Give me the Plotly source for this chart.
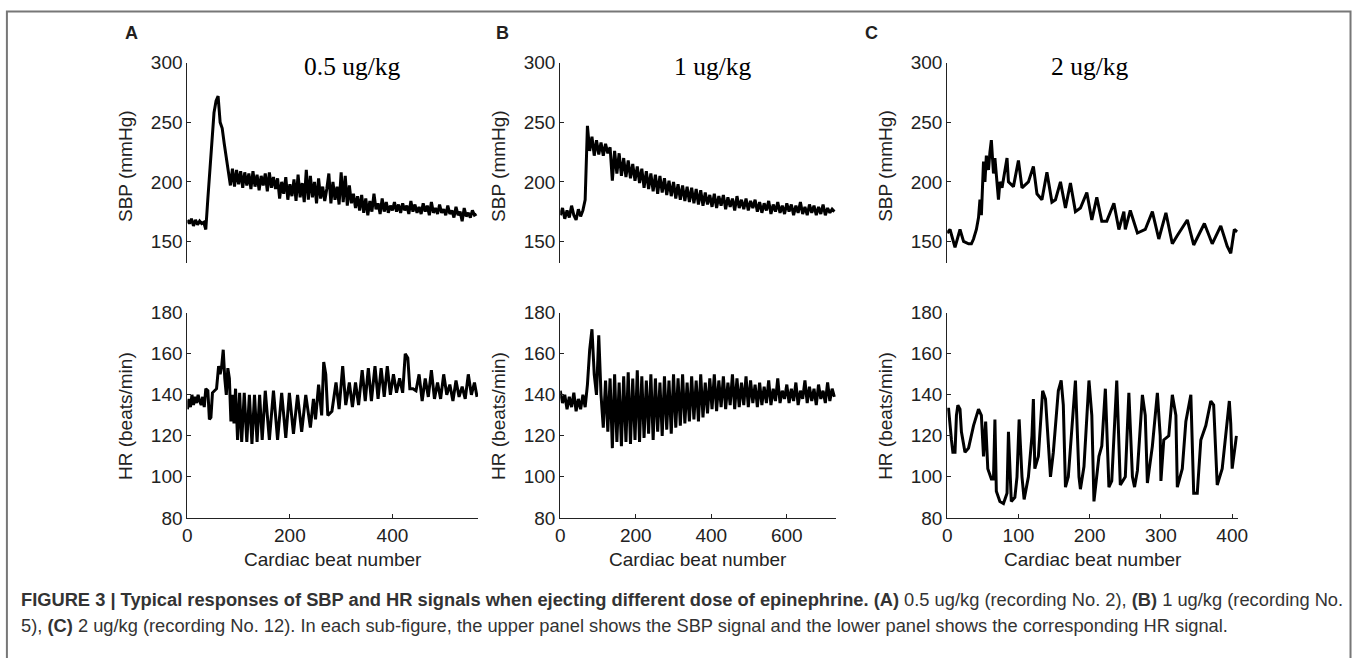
import plotly.graph_objects as go

W, H = 1362, 658
# the photographed page appears slightly shrunk and offset; positions below are given in
# photographed-picture pixels and converted back to page pixels
SX, OX = 0.9866, 6.1
SY, OY = 0.968, 10.2

# ---------------- data ----------------
# Panel A (0.5 ug/kg)
a_sbp_x = list(range(0, 80, 4)) + list(range(80, 565, 4))
a_sbp = ([168, 165, 169, 163, 168, 164, 167, 165, 166, 160, 186, 212, 238, 258, 268, 272, 250, 245, 232, 220]
         + [212, 197, 211, 196, 210, 198, 209, 195, 208, 197, 207, 194, 209, 196, 206, 193, 205, 197, 207, 192, 208, 195, 204, 194]
         + [203, 186, 200, 190, 204, 185, 198, 188, 202, 184, 206, 187, 199, 183, 210, 185, 205, 187, 200, 182, 203, 186, 196, 184, 194]
         + [207, 182, 200, 185, 196, 181, 208, 183, 205, 180, 197, 182, 190, 178, 188]
         + [176, 189, 174, 186, 172, 184, 175, 190, 177, 182, 173, 186, 175, 183, 174, 180, 176]
         + [183, 175, 181, 174, 182, 176, 180, 173, 184, 175, 181, 174, 179, 173, 182, 175, 180, 172, 183, 174, 178,
            173, 181, 174, 177, 172, 180, 173, 176, 170, 179, 172, 175, 167, 178, 171, 174, 170, 176, 172, 173])

a_hr_x = [0, 3, 6, 9, 12, 15, 18, 21, 24, 27, 30, 33, 36, 40, 43, 46, 49, 53, 57, 61, 64, 67, 70, 73, 76, 79, 82,
          85, 88, 91, 94, 98, 102, 106, 111, 116, 121, 126, 131, 136, 141, 146, 152, 160, 168, 176, 184, 192, 199,
          207, 215, 223, 231, 240, 246, 250, 256, 262, 266, 270, 274, 282, 290, 296, 303, 309, 316, 322, 328, 334,
          341, 347, 353, 359, 366, 372, 378, 384, 390, 396, 402, 408, 414, 420, 425, 430, 434, 440, 446, 452, 458,
          464, 470, 476, 482, 488, 494, 500, 506, 512, 518, 524, 530, 536, 542, 548, 554, 560, 565]
a_hr = [133, 138, 134, 140, 135, 139, 136, 140, 137, 135, 139, 134, 143, 142, 128, 129, 141, 142, 143, 154, 150,
        154, 162, 148, 140, 153, 148, 127, 140, 126, 143, 118, 141, 117, 141, 117, 140, 116, 140, 117, 140, 118,
        142, 118, 142, 118, 141, 119, 141, 121, 140, 122, 140, 124, 138, 128, 145, 130, 156, 150, 130, 132, 146,
        133, 154, 135, 146, 134, 146, 135, 152, 137, 153, 137, 154, 138, 153, 139, 154, 140, 150, 141, 148, 141,
        160, 158, 143, 143, 142, 150, 137, 148, 139, 152, 138, 146, 138, 150, 140, 145, 137, 147, 139, 144, 138,
        150, 140, 146, 139]

# Panel B (1 ug/kg)
b_x = list(range(0, 727, 6))
b_sbp = ([172, 178, 169, 176, 170, 180, 172, 168, 177, 171, 176]
         + [185, 247, 226, 238, 222, 235, 223, 233, 222, 232, 224, 229, 201]
         + [226, 207, 224, 205, 220, 204, 218, 203, 215, 201, 213]
         + [199, 211, 195, 209, 194, 207, 192, 206, 190, 205, 191, 203, 189, 201, 188, 200]
         + [186, 198, 185, 197, 184, 196, 183, 195, 182, 194, 181, 193, 180, 191, 181]
         + [189, 179, 190, 178, 188, 180, 189, 177, 187, 179, 186, 176, 188, 178, 185, 177, 186, 176, 184, 178, 185, 175]
         + [183, 174, 182, 176, 184, 173, 181, 175, 183, 174, 180, 173, 182, 175, 181, 172, 180, 174, 183, 173, 179,
            172, 181, 174, 180, 172, 179, 173, 181, 172, 178, 174, 177, 175])
b_hr = ([142, 136, 140, 133, 139, 134, 141, 132, 138, 133, 140]
        + [134, 145, 162, 172, 150, 140, 169, 140, 124, 147, 122, 148, 114]
        + [150, 117, 146, 115, 149, 117, 151, 116, 148, 118, 152]
        + [117, 149, 119, 147, 121, 150, 118, 148, 122, 146, 120, 149, 123, 147, 121, 150]
        + [124, 148, 125, 150, 126, 146, 127, 149, 128, 147, 127, 150, 129, 146, 131]
        + [148, 133, 150, 132, 147, 134, 149, 133, 146, 135, 150, 133, 148, 134, 146, 135, 149, 134, 147, 136, 145, 134]
        + [146, 135, 144, 136, 147, 135, 143, 137, 148, 136, 142, 138, 145, 136, 143, 137, 146, 135, 142, 138, 147,
           136, 144, 137, 143, 135, 145, 138, 142, 136, 146, 137, 143, 139])

# Panel C (2 ug/kg)
c_sbp_x = [0, 4, 11, 18, 23, 30, 34, 37, 41, 44, 46, 48, 51, 53, 55, 58, 60, 62, 65, 67, 72, 74, 77, 84, 86, 93,
           100, 105, 114, 121, 126, 133, 140, 147, 152, 159, 166, 173, 180, 187, 196, 203, 210, 217, 224, 234, 241,
           248, 250, 257, 267, 271, 278, 288, 297, 307, 316, 323, 337, 346, 361, 372, 384, 393, 398, 403, 407]
c_sbp = [157, 160, 145, 160, 150, 148, 148, 152, 160, 170, 185, 172, 217, 200, 222, 210, 225, 235, 207, 220, 185,
         200, 195, 220, 200, 196, 218, 195, 200, 213, 190, 185, 208, 183, 185, 200, 178, 199, 175, 178, 191, 168,
         187, 167, 167, 182, 160, 175, 160, 176, 157, 158, 160, 175, 152, 174, 148, 155, 168, 147, 165, 148, 163,
         146, 140, 160, 158]
c_hr_x = [0, 2, 6, 8, 11, 13, 15, 18, 20, 25, 30, 37, 44, 48, 51, 54, 57, 62, 65, 67, 69, 74, 79, 84, 86, 90, 95,
          98, 101, 105, 108, 114, 119, 121, 123, 128, 134, 138, 145, 149, 156, 160, 163, 166, 170, 180, 185, 187,
          192, 199, 203, 206, 213, 217, 222, 227, 231, 236, 238, 243, 250, 255, 260, 263, 267, 274, 278, 281, 288,
          295, 299, 300, 304, 311, 316, 321, 323, 330, 335, 342, 346, 351, 356, 363, 370, 374, 379, 386, 393, 396,
          398, 400, 406]
c_hr = [133, 133, 118, 112, 112, 130, 135, 133, 122, 112, 114, 125, 133, 130, 110, 127, 104, 99, 99, 128, 93, 88,
        87, 92, 122, 88, 90, 100, 128, 100, 89, 100, 120, 138, 104, 110, 142, 138, 100, 112, 142, 147, 135, 95, 100,
        147, 100, 94, 105, 147, 130, 88, 110, 115, 143, 95, 98, 138, 147, 96, 100, 141, 100, 95, 103, 140, 130, 97,
        115, 141, 120, 98, 118, 120, 140, 130, 95, 104, 127, 140, 92, 92, 118, 125, 137, 135, 96, 104, 125, 137, 126,
        104, 120]

doses = ["0.5 ug/kg", "1 ug/kg", "2 ug/kg"]
panel_letters = ["A", "B", "C"]
sbp_ticks = [150, 200, 250, 300]
hr_ticks = [80, 100, 120, 140, 160, 180]
x_ticks = [[0, 200, 400], [0, 200, 400, 600], [0, 100, 200, 300, 400]]
x_ranges = [[0, 567], [0, 730], [0, 408]]

# ---------------- layout helpers (picture pixel -> paper) ----------------
def fx(q):
    return ((q - OX) / SX) / W

def fy(q):
    return 1 - ((q - OY) / SY) / H

col_px = [(188, 478), (560, 835), (946, 1236)]
top_px = (63, 263)
bot_px = (313, 518)

FONT = "Arial, Liberation Sans, Helvetica, sans-serif"
TICK_SIZE = 19
fig = go.Figure()

series = [
    (a_sbp_x, a_sbp, a_hr_x, a_hr),
    (b_x, b_sbp, b_x, b_hr),
    (c_sbp_x, c_sbp, c_hr_x, c_hr),
]

layout = {}
annotations = []
for i, (sx, sy, hx, hy) in enumerate(series):
    top_n = 2 * i + 1
    bot_n = 2 * i + 2
    tx = "x" if top_n == 1 else f"x{top_n}"
    ty = "y" if top_n == 1 else f"y{top_n}"
    bx = f"x{bot_n}"
    by = f"y{bot_n}"
    fig.add_trace(go.Scatter(x=sx, y=sy, mode="lines", line=dict(color="black", width=3),
                             xaxis=tx, yaxis=ty, showlegend=False))
    fig.add_trace(go.Scatter(x=hx, y=hy, mode="lines", line=dict(color="black", width=3),
                             xaxis=bx, yaxis=by, showlegend=False))
    dom_x = [fx(col_px[i][0]), fx(col_px[i][1])]
    common_y = dict(showline=True, linecolor="#222", linewidth=1, ticks="inside", ticklen=4,
                    tickcolor="#222", showgrid=False, zeroline=False,
                    tickfont=dict(family=FONT, size=TICK_SIZE, color="#222"))
    layout[f"xaxis{'' if top_n == 1 else top_n}"] = dict(
        domain=dom_x, range=x_ranges[i], anchor=ty, showline=False, showticklabels=False,
        ticks="", showgrid=False, zeroline=False)
    layout[f"yaxis{'' if top_n == 1 else top_n}"] = dict(
        domain=[fy(top_px[1]), fy(top_px[0])], range=[132, 300], anchor=tx,
        tickvals=sbp_ticks, **common_y)
    layout[f"xaxis{bot_n}"] = dict(
        domain=dom_x, range=x_ranges[i], anchor=by, showline=True, linecolor="#222", linewidth=1,
        ticks="inside", ticklen=4, tickcolor="#222", tickvals=x_ticks[i], showgrid=False,
        zeroline=False, tickfont=dict(family=FONT, size=TICK_SIZE, color="#222"))
    layout[f"yaxis{bot_n}"] = dict(
        domain=[fy(bot_px[1]), fy(bot_px[0])], range=[80, 180], anchor=bx,
        tickvals=hr_ticks, **common_y)

    cx0 = col_px[i][0]
    cxm = (col_px[i][0] + col_px[i][1]) / 2
    annotations.append(dict(x=fx(cx0 - 61), y=fy(166), xref="paper", yref="paper", text="SBP (mmHg)",
                            textangle=-90, showarrow=False, xanchor="center", yanchor="middle",
                            font=dict(family=FONT, size=TICK_SIZE, color="#222")))
    annotations.append(dict(x=fx(cx0 - 61), y=fy(416), xref="paper", yref="paper", text="HR (beats/min)",
                            textangle=-90, showarrow=False, xanchor="center", yanchor="middle",
                            font=dict(family=FONT, size=TICK_SIZE, color="#222")))
    annotations.append(dict(x=fx(cxm), y=fy(560), xref="paper", yref="paper", text="Cardiac beat number",
                            showarrow=False, xanchor="center", yanchor="middle",
                            font=dict(family=FONT, size=TICK_SIZE, color="#222")))

for txt, cx in zip(doses, [353, 712, 1088]):
    annotations.append(dict(x=fx(cx), y=fy(67), xref="paper", yref="paper", text=txt, showarrow=False,
                            xanchor="center", yanchor="middle",
                            font=dict(family="Liberation Serif, Times New Roman, serif", size=25.5, color="black")))
for letter, cx in zip(panel_letters, [132, 502, 871]):
    annotations.append(dict(x=fx(cx), y=fy(33), xref="paper", yref="paper", text=f"<b>{letter}</b>",
                            showarrow=False, xanchor="center", yanchor="middle",
                            font=dict(family=FONT, size=18, color="#231f20")))

cap1 = ("<b>FIGURE 3 | Typical responses of SBP and HR signals when ejecting different dose of epinephrine. (A)</b>"
        " 0.5 ug/kg (recording No. 2), <b>(B)</b> 1 ug/kg (recording No.")
cap2 = ("5), <b>(C)</b> 2 ug/kg (recording No. 12). In each sub-figure, the upper panel shows the SBP signal "
        "and the lower panel shows the corresponding HR signal.")
annotations.append(dict(x=fx(20), y=fy(600), xref="paper", yref="paper", text=cap1, showarrow=False,
                        xanchor="left", yanchor="middle", font=dict(family=FONT, size=18.3, color="#333")))
annotations.append(dict(x=fx(20), y=fy(626), xref="paper", yref="paper", text=cap2, showarrow=False,
                        xanchor="left", yanchor="middle", font=dict(family=FONT, size=18.3, color="#333")))

# outer frame (top and right edges clamped to the page)
shapes = [dict(type="rect", xref="paper", yref="paper",
               x0=max(fx(8), 1.5 / W), x1=min(fx(1355), 1 - 1.5 / W),
               y0=-0.1, y1=min(fy(6), 1 - 1.5 / H),
               line=dict(color="#777", width=2), fillcolor="rgba(0,0,0,0)")]

fig.update_layout(width=W, height=H, margin=dict(l=0, r=0, t=0, b=0), paper_bgcolor="white",
                  plot_bgcolor="white", annotations=annotations, shapes=shapes, **layout)

fig.write_html("out.html", config={"displayModeBar": False},
               post_script="document.body.style.margin='0';document.body.style.padding='0';"
                           "document.documentElement.style.overflow='hidden';")
